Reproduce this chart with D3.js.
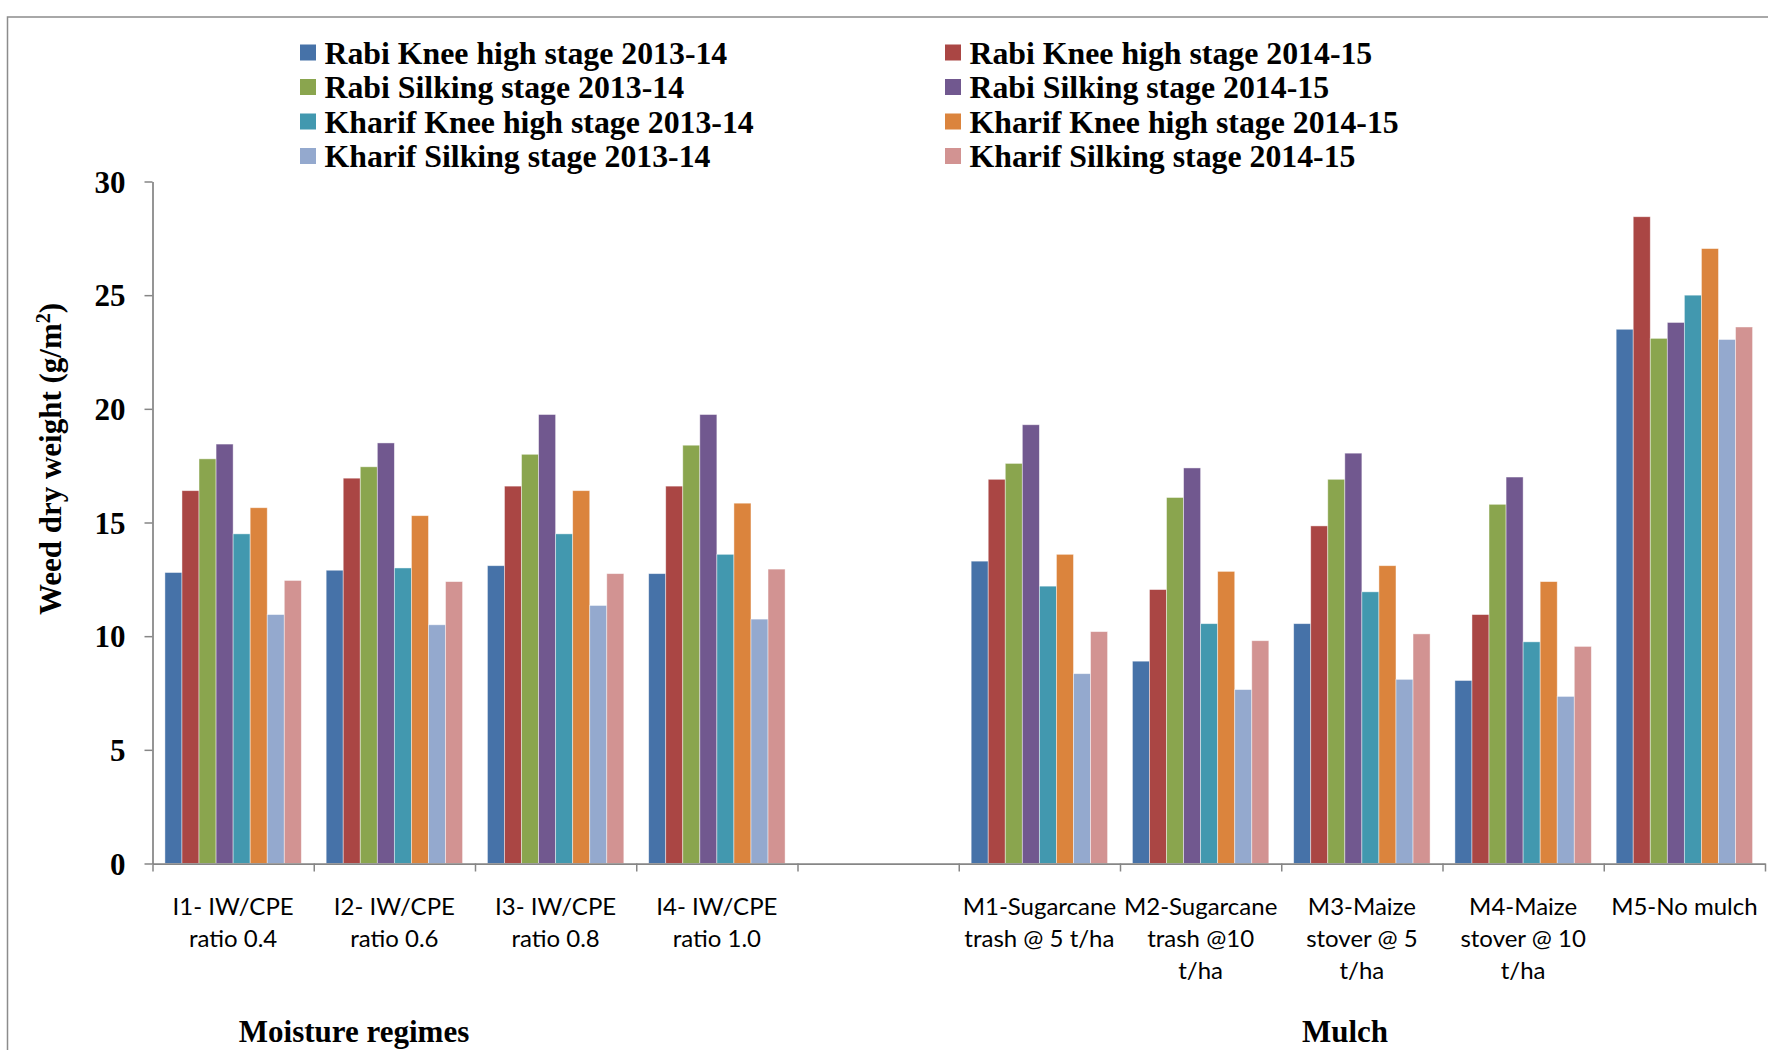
<!DOCTYPE html>
<html>
<head>
<meta charset="utf-8">
<script src="https://cdn.jsdelivr.net/npm/d3@7"></script>
<style>
  html, body { margin: 0; padding: 0; background: #fff; }
  svg { display: block; }
  .serif { font-family: "Liberation Serif", "Times New Roman", "DejaVu Serif", serif; font-weight: bold; fill: #000; }
  .cat { font-family: Lato, "Open Sans", "Liberation Sans", sans-serif; fill: #000; }
</style>
</head>
<body>
<svg id="chart" width="1768" height="1050"></svg>
<script>
// Treatments along the x axis (null marks the empty slot between the two groups)
const categoryLabels = [
  ["I1- IW/CPE", "ratio 0.4"],
  ["I2- IW/CPE", "ratio 0.6"],
  ["I3- IW/CPE", "ratio 0.8"],
  ["I4- IW/CPE", "ratio 1.0"],
  null,
  ["M1-Sugarcane", "trash @ 5 t/ha"],
  ["M2-Sugarcane", "trash @10", "t/ha"],
  ["M3-Maize", "stover @ 5", "t/ha"],
  ["M4-Maize", "stover @ 10", "t/ha"],
  ["M5-No mulch"]
];

const seriesNames = [
  "Rabi Knee high stage 2013-14",
  "Rabi Knee high stage 2014-15",
  "Rabi Silking stage 2013-14",
  "Rabi Silking stage 2014-15",
  "Kharif Knee high stage 2013-14",
  "Kharif Knee high stage 2014-15",
  "Kharif Silking stage 2013-14",
  "Kharif Silking stage 2014-15"
];

const seriesColors = ["#4672A8", "#AA4644", "#8AA54E", "#71588F", "#4298AF", "#DB843D", "#94A9CE", "#D29392"];

// Weed dry weight (g/m2) per treatment
const rabiKnee1314     = [12.8, 12.9, 13.1, 12.75, null, 13.3, 8.9, 10.55, 8.05, 23.5];
const rabiKnee1415     = [16.4, 16.95, 16.6, 16.6, null, 16.9, 12.05, 14.85, 10.95, 28.45];
const rabiSilk1314     = [17.8, 17.45, 18.0, 18.4, null, 17.6, 16.1, 16.9, 15.8, 23.1];
const rabiSilk1415     = [18.45, 18.5, 19.75, 19.75, null, 19.3, 17.4, 18.05, 17.0, 23.8];
const kharifKnee1314   = [14.5, 13.0, 14.5, 13.6, null, 12.2, 10.55, 11.95, 9.75, 25.0];
const kharifKnee1415   = [15.65, 15.3, 16.4, 15.85, null, 13.6, 12.85, 13.1, 12.4, 27.05];
const kharifSilk1314   = [10.95, 10.5, 11.35, 10.75, null, 8.35, 7.65, 8.1, 7.35, 23.05];
const kharifSilk1415   = [12.45, 12.4, 12.75, 12.95, null, 10.2, 9.8, 10.1, 9.55, 23.6];

const seriesValues = [rabiKnee1314, rabiKnee1415, rabiSilk1314, rabiSilk1415,
                      kharifKnee1314, kharifKnee1415, kharifSilk1314, kharifSilk1415];

const yTicks = [0, 5, 10, 15, 20, 25, 30];
const groupTitles = [
  { text: "Moisture regimes", cx: 354 },
  { text: "Mulch", cx: 1345 }
];

const svg = d3.select("#chart");

// Outer frame (runs off the right and bottom edges)
svg.append("rect")
  .attr("x", 7.5).attr("y", 17)
  .attr("width", 2000).attr("height", 2000)
  .attr("fill", "none").attr("stroke", "#8c8c8c").attr("stroke-width", 1.5);

const plotLeft = 152.5, plotRight = 1765, plotTop = 181.5, plotBottom = 863.5;

const slots = d3.range(categoryLabels.length);
const x = d3.scaleBand().domain(slots).range([plotLeft, plotRight]).paddingInner(0).paddingOuter(0);
const xEdges = d3.scaleLinear().domain([0, slots.length]).range([plotLeft, plotRight]);
const y = d3.scaleLinear().domain([0, 30]).range([plotBottom, plotTop]);

const inset = x.bandwidth() * 0.077;
const xInner = d3.scaleBand().domain(d3.range(seriesNames.length))
  .range([inset, x.bandwidth() - inset]).padding(0);

// Bars
const barData = [];
slots.forEach(i => {
  seriesValues.forEach((vals, s) => {
    if (vals[i] != null) barData.push({ slot: i, s, v: vals[i] });
  });
});

svg.append("g").selectAll("rect")
  .data(barData)
  .join("rect")
  .attr("x", d => x(d.slot) + xInner(d.s))
  .attr("y", d => y(d.v))
  .attr("width", xInner.bandwidth())
  .attr("height", d => y(0) - y(d.v))
  .attr("fill", d => seriesColors[d.s])
  .attr("stroke", "#ffffff")
  .attr("stroke-opacity", 0.55)
  .attr("stroke-width", 0.8);

// Y axis
const yAxis = svg.append("g")
  .attr("transform", `translate(${plotLeft},0)`)
  .call(d3.axisLeft(y).tickValues(yTicks).tickSize(8).tickPadding(19).tickSizeOuter(0));
yAxis.select(".domain").attr("stroke", "#868686").attr("stroke-width", 1.75);
yAxis.selectAll(".tick line").attr("stroke", "#868686").attr("stroke-width", 1.5);
yAxis.selectAll(".tick text")
  .attr("class", "serif")
  .style("font-size", "31px")
  .attr("dy", "0.34em");

// X axis: ticks on slot boundaries
const xAxis = svg.append("g")
  .attr("transform", `translate(0,${plotBottom})`)
  .call(d3.axisBottom(xEdges).tickValues(d3.range(slots.length + 1)).tickSize(8).tickFormat("").tickSizeOuter(0));
xAxis.select(".domain").attr("stroke", "#868686").attr("stroke-width", 1.75);
xAxis.selectAll(".tick line").attr("stroke", "#868686").attr("stroke-width", 1.5);

// Category labels
const catG = svg.append("g");
slots.forEach(i => {
  const lines = categoryLabels[i];
  if (!lines) return;
  const t = catG.append("text")
    .attr("class", "cat")
    .attr("text-anchor", "middle")
    .style("font-size", "24px");
  lines.forEach((ln, k) => {
    t.append("tspan")
      .attr("x", x(i) + x.bandwidth() / 2)
      .attr("y", 915 + k * 32)
      .text(ln);
  });
});

// Group titles under the categories
groupTitles.forEach(g => {
  svg.append("text")
    .attr("class", "serif")
    .attr("text-anchor", "middle")
    .attr("x", g.cx)
    .attr("y", 1042)
    .style("font-size", "31px")
    .text(g.text);
});

// Y axis title
const yTitle = svg.append("text")
  .attr("class", "serif")
  .attr("text-anchor", "middle")
  .attr("transform", "translate(61,459) rotate(-90)")
  .style("font-size", "31px");
yTitle.append("tspan").text("Weed dry weight (g/m");
yTitle.append("tspan").attr("baseline-shift", "super").style("font-size", "20px").text("2");
yTitle.append("tspan").text(")");

// Legend: two columns, four rows
const legend = svg.append("g");
seriesNames.forEach((name, i) => {
  const col = i % 2, row = Math.floor(i / 2);
  const sx = col === 0 ? 300 : 945;
  const cy = 52.5 + row * 34.5;
  legend.append("rect")
    .attr("x", sx).attr("y", cy - 8)
    .attr("width", 16).attr("height", 16)
    .attr("fill", seriesColors[i]);
  legend.append("text")
    .attr("class", "serif")
    .attr("x", sx + 24.5)
    .attr("y", cy + 11)
    .style("font-size", "31.8px")
    .text(name);
});
</script>
</body>
</html>
